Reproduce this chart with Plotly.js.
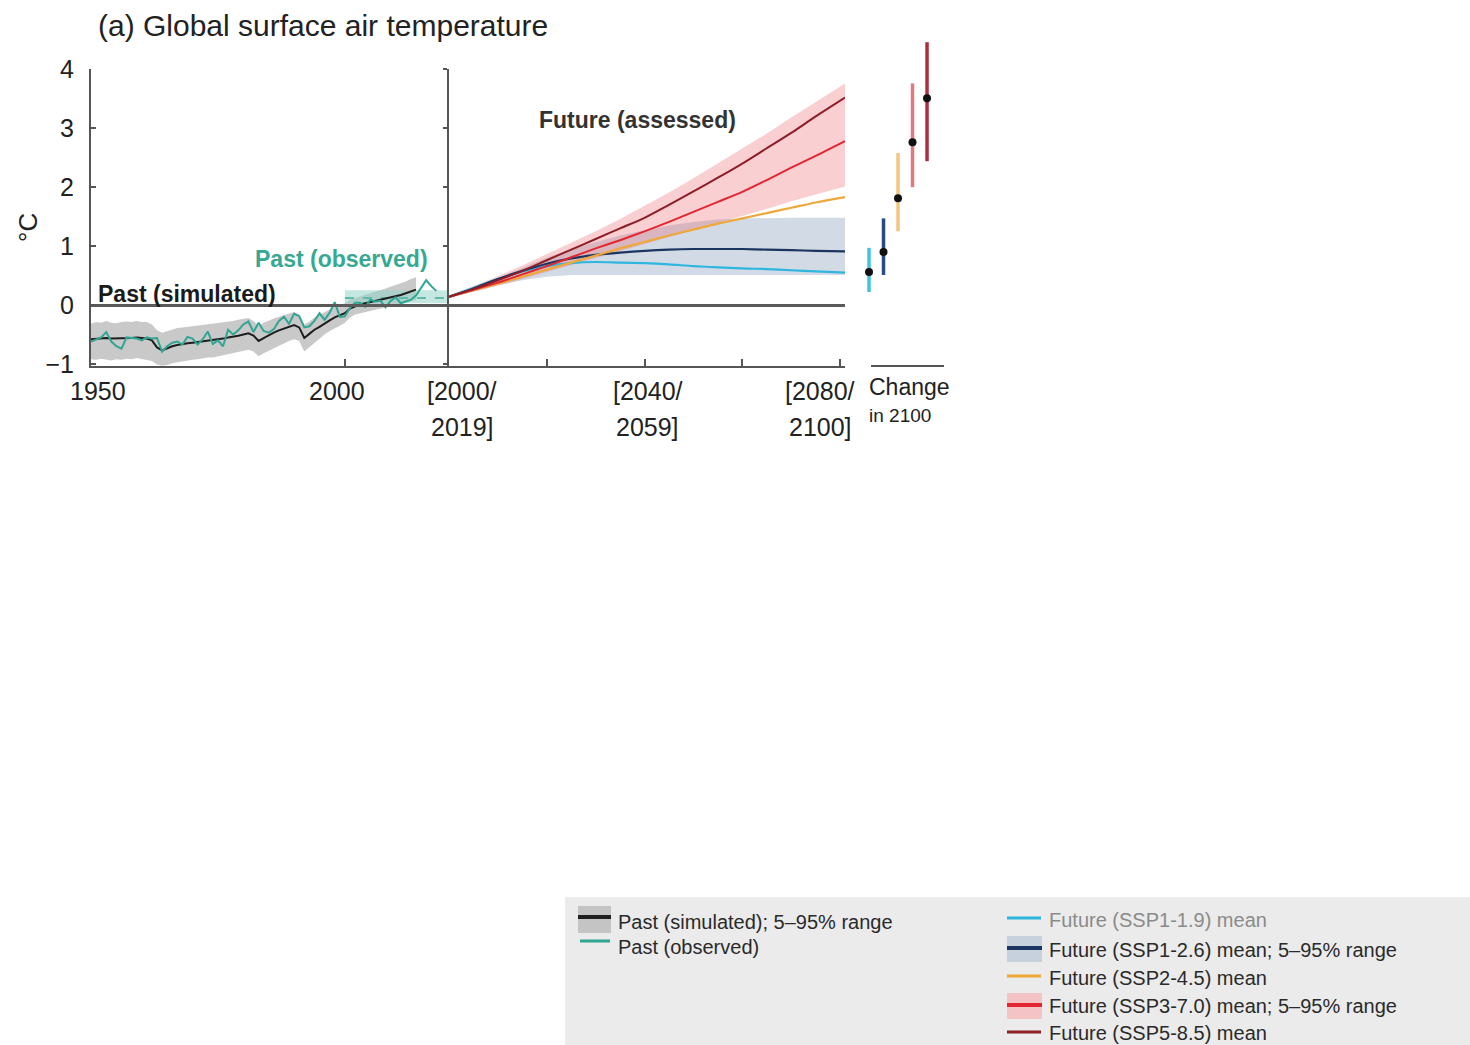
<!DOCTYPE html>
<html><head><meta charset="utf-8">
<script src="https://cdn.plot.ly/plotly-3.0.1.min.js"></script>
<style>html,body{margin:0;padding:0;background:#fff;} #chart{width:1470px;height:1045px;}</style>
</head><body><div id="chart"></div>
<script>
// ---------------- DATA ----------------
const pastYears = [1950,1951,1952,1953,1954,1955,1956,1957,1958,1959,1960,1961,1962,1963,1964,1965,1966,1967,1968,1969,1970,1971,1972,1973,1974,1975,1976,1977,1978,1979,1980,1981,1982,1983,1984,1985,1986,1987,1988,1989,1990,1991,1992,1993,1994,1995,1996,1997,1998,1999,2000,2001,2002,2003,2004,2005,2006,2007,2008,2009,2010,2011,2012,2013,2014];
const simMean = [-0.58,-0.57,-0.57,-0.56,-0.57,-0.57,-0.57,-0.56,-0.56,-0.55,-0.56,-0.57,-0.60,-0.72,-0.77,-0.73,-0.70,-0.68,-0.66,-0.65,-0.64,-0.63,-0.62,-0.61,-0.60,-0.59,-0.57,-0.55,-0.54,-0.52,-0.50,-0.48,-0.52,-0.61,-0.56,-0.51,-0.47,-0.43,-0.40,-0.37,-0.34,-0.38,-0.56,-0.49,-0.42,-0.37,-0.31,-0.26,-0.21,-0.18,-0.14,-0.06,-0.02,0.01,0.03,0.05,0.07,0.08,0.10,0.12,0.14,0.17,0.20,0.23,0.26];
const simUpper = [-0.32,-0.29,-0.30,-0.27,-0.30,-0.31,-0.29,-0.28,-0.29,-0.27,-0.29,-0.29,-0.33,-0.43,-0.47,-0.44,-0.41,-0.39,-0.38,-0.37,-0.36,-0.34,-0.34,-0.32,-0.32,-0.31,-0.29,-0.28,-0.27,-0.25,-0.24,-0.22,-0.27,-0.35,-0.30,-0.26,-0.23,-0.20,-0.17,-0.15,-0.12,-0.16,-0.33,-0.28,-0.21,-0.17,-0.12,-0.08,-0.03,0.00,0.03,0.09,0.12,0.15,0.18,0.20,0.23,0.25,0.28,0.31,0.33,0.37,0.40,0.44,0.47];
const simLower = [-0.92,-0.93,-0.91,-0.92,-0.94,-0.92,-0.93,-0.91,-0.92,-0.90,-0.92,-0.93,-0.95,-1.01,-1.03,-1.02,-0.99,-0.97,-0.96,-0.94,-0.93,-0.92,-0.91,-0.89,-0.89,-0.87,-0.85,-0.83,-0.82,-0.80,-0.78,-0.76,-0.79,-0.87,-0.82,-0.77,-0.73,-0.69,-0.65,-0.61,-0.58,-0.61,-0.79,-0.72,-0.64,-0.57,-0.50,-0.44,-0.39,-0.35,-0.30,-0.21,-0.16,-0.13,-0.11,-0.09,-0.07,-0.06,-0.04,-0.02,0.00,0.02,0.04,0.06,0.08];

const obsYears = [1950,1951,1952,1953,1954,1955,1956,1957,1958,1959,1960,1961,1962,1963,1964,1965,1966,1967,1968,1969,1970,1971,1972,1973,1974,1975,1976,1977,1978,1979,1980,1981,1982,1983,1984,1985,1986,1987,1988,1989,1990,1991,1992,1993,1994,1995,1996,1997,1998,1999,2000,2001,2002,2003,2004,2005,2006,2007,2008,2009,2010,2011,2012,2013,2014,2015,2016,2017,2018];
const obsTemp = [-0.62,-0.58,-0.55,-0.46,-0.62,-0.70,-0.74,-0.55,-0.56,-0.57,-0.60,-0.55,-0.57,-0.56,-0.79,-0.70,-0.64,-0.62,-0.67,-0.54,-0.57,-0.67,-0.58,-0.45,-0.66,-0.60,-0.70,-0.42,-0.50,-0.43,-0.33,-0.28,-0.46,-0.30,-0.44,-0.47,-0.41,-0.27,-0.20,-0.32,-0.15,-0.19,-0.38,-0.36,-0.27,-0.14,-0.25,-0.13,0.05,-0.20,-0.19,-0.05,0.04,0.04,-0.03,0.09,0.06,0.07,-0.04,0.07,0.13,0.03,0.06,0.09,0.16,0.30,0.42,0.32,0.24];
const obsRangeYears = [2000, 2020.8];
const obsRangeLow = 0.03;
const obsRangeHigh = 0.25;
const obsPeriodMean = 0.12;

const futYears = [2010,2015,2020,2025,2030,2035,2040,2045,2050,2055,2060,2065,2070,2075,2080,2085,2091];
const ssp119 = [0.14,0.29,0.44,0.57,0.66,0.71,0.73,0.72,0.71,0.69,0.66,0.64,0.62,0.61,0.59,0.57,0.55];
const ssp126 = [0.14,0.28,0.44,0.58,0.70,0.79,0.85,0.89,0.92,0.94,0.95,0.95,0.95,0.94,0.93,0.92,0.91];
const ssp245 = [0.14,0.25,0.36,0.48,0.60,0.72,0.84,0.96,1.07,1.18,1.28,1.38,1.47,1.56,1.65,1.74,1.83];
const ssp370 = [0.14,0.26,0.38,0.52,0.66,0.81,0.96,1.10,1.25,1.41,1.58,1.75,1.92,2.12,2.33,2.53,2.78];
const ssp585 = [0.14,0.27,0.42,0.58,0.76,0.94,1.12,1.30,1.48,1.70,1.93,2.16,2.40,2.66,2.92,3.20,3.52];
const ssp126Upper = [0.15,0.30,0.46,0.63,0.80,0.95,1.07,1.18,1.27,1.35,1.41,1.45,1.47,1.48,1.48,1.48,1.48];
const ssp126Lower = [0.12,0.22,0.33,0.42,0.48,0.51,0.52,0.52,0.52,0.52,0.52,0.52,0.52,0.52,0.51,0.51,0.51];
const ssp370Upper = [0.16,0.32,0.49,0.67,0.86,1.05,1.25,1.46,1.68,1.91,2.15,2.40,2.65,2.91,3.18,3.45,3.76];
const ssp370Lower = [0.12,0.22,0.33,0.44,0.56,0.67,0.79,0.91,1.03,1.15,1.27,1.39,1.51,1.63,1.76,1.88,2.01];

const scenarios = ['SSP1-1.9','SSP1-2.6','SSP2-4.5','SSP3-7.0','SSP5-8.5'];
const change2100Mean = [0.56, 0.90, 1.81, 2.76, 3.51];
const change2100Low  = [0.22, 0.51, 1.25, 2.00, 2.44];
const change2100High = [0.97, 1.47, 2.58, 3.76, 4.46];

const pastTicks = [1950, 2000];
const pastTickText = ['1950', '2000'];
const futTicks = [2010, 2030, 2050, 2070, 2090];
const futTickText = [['[2000/','2019]'], null, ['[2040/','2059]'], null, ['[2080/','2100]']];
const yTicks = [-1, 0, 1, 2, 3, 4];

// ---------------- STYLE ----------------
const W = 1470, H = 1045;
const px = v => v / W;
const py = v => 1 - v / H;
const FONT = 'Liberation Sans, Arial, Helvetica, sans-serif';
const C = {
  sim: '#1e1e1e', simBand: '#c9c9c9', obs: '#2fa592', obsBox: 'rgba(150,212,200,0.55)',
  s119: '#2fb6df', s126: '#1c3560', s245: '#eea83a', s370: '#e3262f', s585: '#8f1d28',
  band126: 'rgba(165,182,204,0.5)', band370: 'rgba(236,96,104,0.30)',
  bar: ['#42c2e0', '#2a4b80', '#f3c680', '#e27880', '#ad2e3c'],
  axis: '#555'
};
const UNIT = 58.93, ZERO_PX = 305;
const yRange = [-1.035, 4.0];
const yDom = [py(366), py(ZERO_PX - 4.0 * UNIT)];
const y3Range = [-1.035, 4.6];
const y3Dom = [py(366), py(ZERO_PX - 4.6 * UNIT)];

function band(xs, up, lo, color, xa, ya) {
  return {x: xs.concat(xs.slice().reverse()), y: up.concat(lo.slice().reverse()),
    fill: 'toself', fillcolor: color, line: {width: 0}, mode: 'lines', hoverinfo: 'skip',
    xaxis: xa, yaxis: ya};
}
function line(xs, ys, color, w, xa, ya, dash, smooth) {
  return {x: xs, y: ys, mode: 'lines',
    line: {color: color, width: w, dash: dash || 'solid', shape: smooth ? 'spline' : 'linear', smoothing: 0.8},
    xaxis: xa, yaxis: ya};
}

const traces = [];
// past
traces.push(band(pastYears, simUpper, simLower, C.simBand, 'x', 'y'));
traces.push(band(obsRangeYears, [obsRangeHigh, obsRangeHigh], [obsRangeLow, obsRangeLow], C.obsBox, 'x', 'y'));
traces.push(line(obsRangeYears, [obsPeriodMean, obsPeriodMean], '#5cbcaa', 2, 'x', 'y', 'dash'));
traces.push(line(pastYears, simMean, C.sim, 2, 'x', 'y'));
traces.push(line(obsYears, obsTemp, C.obs, 2, 'x', 'y'));
// future
traces.push(band(futYears, ssp126Upper, ssp126Lower, C.band126, 'x2', 'y2'));
traces.push(band(futYears, ssp370Upper, ssp370Lower, C.band370, 'x2', 'y2'));
traces.push(line(futYears, ssp119, C.s119, 2.2, 'x2', 'y2', null, true));
traces.push(line(futYears, ssp126, C.s126, 2.2, 'x2', 'y2', null, true));
traces.push(line(futYears, ssp245, C.s245, 2.2, 'x2', 'y2', null, true));
traces.push(line(futYears, ssp370, C.s370, 2, 'x2', 'y2', null, true));
traces.push(line(futYears, ssp585, C.s585, 2, 'x2', 'y2', null, true));
// change in 2100
scenarios.forEach((s, i) => {
  traces.push({x: [i + 1], y: [change2100Mean[i]], mode: 'markers', name: s,
    marker: {color: '#111', size: 8},
    error_y: {type: 'data', symmetric: false,
      array: [change2100High[i] - change2100Mean[i]],
      arrayminus: [change2100Mean[i] - change2100Low[i]],
      color: C.bar[i], thickness: 3.5, width: 0},
    cliponaxis: false, xaxis: 'x3', yaxis: 'y3'});
});

// ---------------- ANNOTATIONS ----------------
const ann = [];
function txt(t, x, y, size, opts) {
  ann.push(Object.assign({text: t, x: px(x), y: py(y), xref: 'paper', yref: 'paper',
    showarrow: false, xanchor: 'left', yanchor: 'middle',
    font: {family: FONT, size: size, color: '#222'}}, opts || {}));
}
txt('(a) Global surface air temperature', 96, 25, 30);
txt('°C', 28, 228, 26, {xanchor: 'center', textangle: -90});
txt('<b>Past (simulated)</b>', 96, 294, 23, {font: {family: FONT, size: 23, color: '#1a1a1a'}});
txt('<b>Past (observed)</b>', 253, 259, 23, {font: {family: FONT, size: 23, color: '#37a892'}});
txt('<b>Future (assessed)</b>', 537, 120, 23, {font: {family: FONT, size: 23, color: '#333'}});
txt('Change', 867, 387, 23);
txt('in 2100', 867, 416, 19);
// x tick labels, placed on the data axes
pastTicks.forEach((v, i) => {
  ann.push({text: pastTickText[i], x: v, xref: 'x', y: py(391), yref: 'paper', showarrow: false,
    xanchor: 'center', yanchor: 'middle', xshift: i === 0 ? 7 : -8,
    font: {family: FONT, size: 25, color: '#222'}});
});
const futShift = [13, 0, 3, 0, -20];
futTicks.forEach((v, i) => {
  const t = futTickText[i];
  if (!t) return;
  ann.push({text: t[0], x: v, xref: 'x2', y: py(391), yref: 'paper', showarrow: false,
    xanchor: 'center', yanchor: 'middle', xshift: futShift[i], font: {family: FONT, size: 25, color: '#222'}});
  ann.push({text: t[1], x: v, xref: 'x2', y: py(427), yref: 'paper', showarrow: false,
    xanchor: 'center', yanchor: 'middle', xshift: futShift[i], font: {family: FONT, size: 25, color: '#222'}});
});

// ---------------- LEGEND (drawn box) + decorations ----------------
const shapes = [];
function rect(x0, y0, x1, y1, fill) {
  shapes.push({type: 'rect', xref: 'paper', yref: 'paper', x0: px(x0), x1: px(x1), y0: py(y1), y1: py(y0),
    fillcolor: fill, line: {width: 0}, layer: 'below'});
}
function hl(x0, x1, y, color, w) {
  shapes.push({type: 'line', xref: 'paper', yref: 'paper', x0: px(x0), x1: px(x1), y0: py(y), y1: py(y),
    line: {color: color, width: w}});
}
// baseline under the "Change in 2100" column
hl(871, 944, 366, C.axis, 2);
rect(565, 897, 1470, 1045, '#ebebeb');
rect(578, 906, 611, 933, '#c4c4c4'); hl(578, 611, 917, '#1e1e1e', 4);
hl(580, 610, 941, C.obs, 3);
hl(1007, 1041, 918, C.s119, 3);
rect(1007, 936, 1042, 962, '#c7d1de'); hl(1007, 1042, 948, C.s126, 4);
hl(1007, 1041, 976, C.s245, 3);
rect(1007, 993, 1042, 1019, '#f4c3c5'); hl(1007, 1042, 1005, C.s370, 4);
hl(1007, 1041, 1032, C.s585, 3);
function lt(t, x, y, color) {
  txt(t, x, y, 20, {font: {family: FONT, size: 20, color: color || '#2a2a2a'}});
}
lt('Past (simulated); 5–95% range', 616, 922);
lt('Past (observed)', 616, 947);
lt('Future (SSP1-1.9) mean', 1047, 920, '#8a8a8a');
lt('Future (SSP1-2.6) mean; 5–95% range', 1047, 950);
lt('Future (SSP2-4.5) mean', 1047, 978);
lt('Future (SSP3-7.0) mean; 5–95% range', 1047, 1006);
lt('Future (SSP5-8.5) mean', 1047, 1033);

// ---------------- LAYOUT ----------------
const axBase = {showgrid: false, fixedrange: true};
const layout = {
  width: W, height: H, margin: {l: 0, r: 0, t: 0, b: 0},
  paper_bgcolor: '#fff', plot_bgcolor: 'rgba(0,0,0,0)', showlegend: false,
  font: {family: FONT, color: '#222'},
  xaxis: Object.assign({}, axBase, {domain: [px(91), px(449)], range: [1950, 2020.5], anchor: 'y',
    showline: true, linecolor: C.axis, linewidth: 2, ticks: 'inside', ticklen: 7, tickcolor: C.axis, tickwidth: 2,
    tickvals: pastTicks, showticklabels: false, zeroline: false}),
  yaxis: Object.assign({}, axBase, {domain: yDom, range: yRange, anchor: 'x',
    showline: true, linecolor: C.axis, linewidth: 2, ticks: 'inside', ticklen: 5, tickcolor: C.axis, tickwidth: 2,
    tickvals: yTicks, tickfont: {family: FONT, size: 25, color: '#222'}, ticklabelstandoff: 10,
    zeroline: true, zerolinecolor: '#5a5a5a', zerolinewidth: 3, zerolinelayer: 'above traces'}),
  xaxis2: Object.assign({}, axBase, {domain: [px(449), px(845)], range: [2010, 2091], anchor: 'y2',
    showline: true, linecolor: C.axis, linewidth: 2, ticks: 'inside', ticklen: 7, tickcolor: C.axis, tickwidth: 2,
    tickvals: futTicks, showticklabels: false, zeroline: false}),
  yaxis2: Object.assign({}, axBase, {domain: yDom, range: yRange, anchor: 'x2',
    showline: true, linecolor: C.axis, linewidth: 2, ticks: 'outside', ticklen: 4, tickcolor: C.axis, tickwidth: 2,
    tickvals: yTicks, showticklabels: false,
    zeroline: true, zerolinecolor: '#5a5a5a', zerolinewidth: 3}),
  xaxis3: Object.assign({}, axBase, {domain: [px(862), px(944)], range: [0.517, 6.17], anchor: 'y3',
    visible: false}),
  yaxis3: Object.assign({}, axBase, {domain: y3Dom, range: y3Range, anchor: 'x3', visible: false}),
  annotations: ann,
  shapes: shapes
};
Plotly.newPlot('chart', traces, layout, {staticPlot: true, displayModeBar: false});
</script></body></html>
